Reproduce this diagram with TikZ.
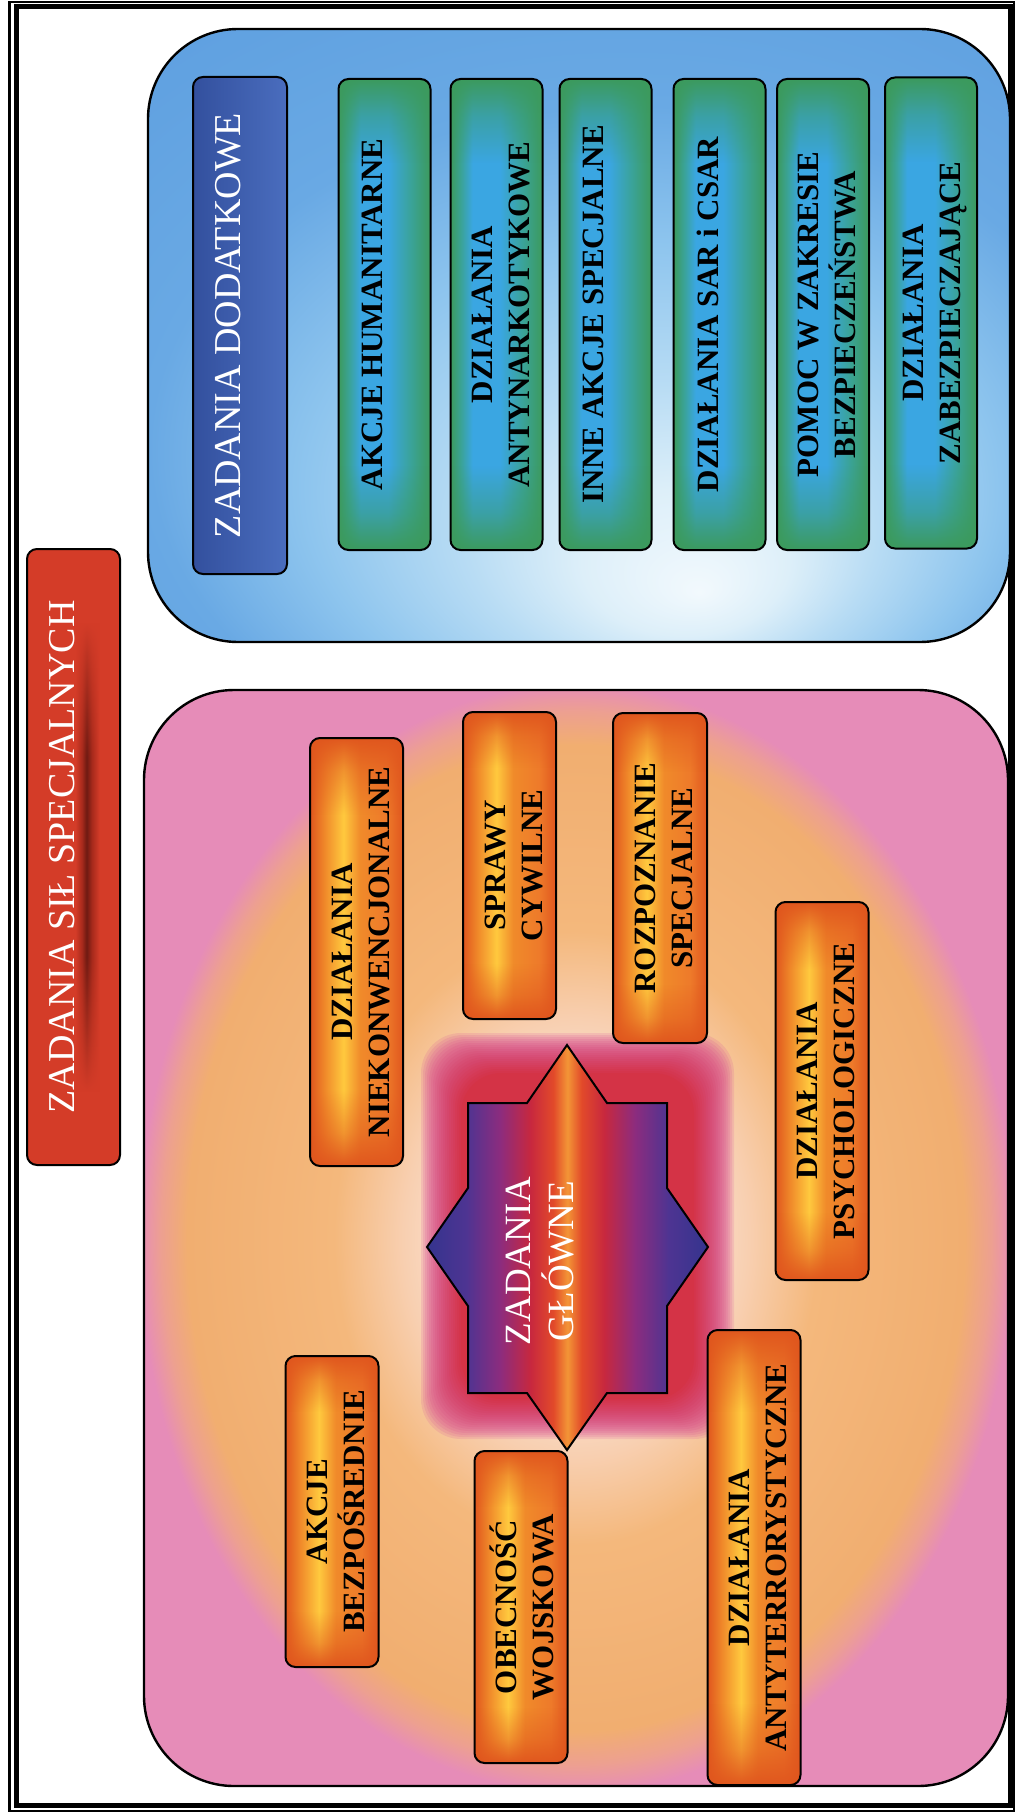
\documentclass[tikz,border=0pt]{standalone}
\usepackage{fontspec}
\setmainfont{Liberation Serif}
\usepackage{graphicx}
\usetikzlibrary{fadings}

\definecolor{blueA}{HTML}{F2F9FD}
\definecolor{blueB}{HTML}{DDEFF9}
\definecolor{blueC}{HTML}{B8DCF4}
\definecolor{blueD}{HTML}{8EC5EE}
\definecolor{blueE}{HTML}{69A9E4}
\definecolor{blueF}{HTML}{5597DC}
\definecolor{pinkA}{HTML}{FFF6F2}
\definecolor{pinkB}{HTML}{FCEAE2}
\definecolor{pinkC}{HTML}{F8CFB0}
\definecolor{pinkD}{HTML}{F4B87C}
\definecolor{pinkE}{HTML}{F1AE70}
\definecolor{pinkF}{HTML}{EDA090}
\definecolor{pinkG}{HTML}{E68CB8}
\definecolor{titlered}{HTML}{D43C28}
\definecolor{titledark}{HTML}{6E1A12}
\definecolor{titlemid}{HTML}{A82A1C}
\definecolor{navyblue}{HTML}{33509E}
\definecolor{navylight}{HTML}{4A6DBE}
\definecolor{gedge}{HTML}{3C9A5C}
\definecolor{gteal}{HTML}{3AA39A}
\definecolor{gblue}{HTML}{3AA6E2}
\definecolor{oedge}{HTML}{E0561E}
\definecolor{omid}{HTML}{F08A2A}
\definecolor{oyellow}{HTML}{FFC93E}
\definecolor{oright}{HTML}{EE7A2A}
\definecolor{snavy}{HTML}{34348E}
\definecolor{spurpleA}{HTML}{4E3492}
\definecolor{spurpleB}{HTML}{8C2C7E}
\definecolor{scrimson}{HTML}{C8283E}
\definecolor{sred}{HTML}{E24A2A}
\definecolor{sorange}{HTML}{F39536}
\definecolor{glowpink}{HTML}{D8509A}
\definecolor{glowred}{HTML}{D42A2E}

\pgfdeclareradialshading{bluepanel}{\pgfpoint{7bp}{-21bp}}{color(0bp)=(blueA); color(6bp)=(blueB); color(12bp)=(blueC); color(20bp)=(blueD); color(28bp)=(blueE); color(50bp)=(blueF)}
\pgfdeclareradialshading{pinkpanel}{\pgfpointorigin}{color(0bp)=(pinkA); color(5bp)=(pinkB); color(10bp)=(pinkC); color(14bp)=(pinkD); color(22.5bp)=(pinkE); color(24bp)=(pinkF); color(25.3bp)=(pinkG); color(50bp)=(pinkG)}
\pgfdeclarehorizontalshading{titleshade}{100bp}{color(0bp)=(titlered); color(25bp)=(titlered); color(51bp)=(titlered); color(54.5bp)=(titlemid); color(57bp)=(titledark); color(60bp)=(titlemid); color(64bp)=(titlered); color(100bp)=(titlered)}
\pgfdeclarehorizontalshading{dodatkshade}{100bp}{color(0bp)=(navyblue); color(25bp)=(navyblue); color(75bp)=(navylight); color(100bp)=(navylight)}
\pgfdeclarehorizontalshading{greenshade}{100bp}{color(0bp)=(gedge); color(25bp)=(gedge); color(31bp)=(gteal); color(37bp)=(gblue); color(52bp)=(gblue); color(64bp)=(gteal); color(75bp)=(gedge); color(100bp)=(gedge)}
\pgfdeclarehorizontalshading{orangeshade}{100bp}{color(0bp)=(oedge); color(25bp)=(oedge); color(33bp)=(omid); color(43bp)=(oyellow); color(52bp)=(omid); color(66bp)=(oright); color(75bp)=(oedge); color(100bp)=(oedge)}
\pgfdeclarehorizontalshading{starshade}{100bp}{color(0bp)=(snavy); color(25bp)=(snavy); color(32bp)=(spurpleA); color(38bp)=(spurpleB); color(43.5bp)=(scrimson); color(47.5bp)=(sred); color(50bp)=(sorange); color(52.5bp)=(sred); color(56.5bp)=(scrimson); color(62bp)=(spurpleB); color(68bp)=(spurpleA); color(75bp)=(snavy); color(100bp)=(snavy)}
\pgfdeclareverticalshading{endshade}{100bp}{color(0bp)=(pgftransparent!0); color(25bp)=(pgftransparent!0); color(29bp)=(pgftransparent!55); color(34bp)=(pgftransparent!100); color(66bp)=(pgftransparent!100); color(71bp)=(pgftransparent!55); color(75bp)=(pgftransparent!0); color(100bp)=(pgftransparent!0)}
\pgfdeclarefading{endsfade}{\pgfuseshading{endshade}}
\pgfdeclareverticalshading{bandshade}{100bp}{color(0bp)=(pgftransparent!0); color(31bp)=(pgftransparent!0); color(42bp)=(pgftransparent!100); color(58bp)=(pgftransparent!100); color(69bp)=(pgftransparent!0); color(100bp)=(pgftransparent!0)}
\pgfdeclarefading{bandfade}{\pgfuseshading{bandshade}}

\newcommand{\cellfont}{\fontsize{15.5}{18.5}\selectfont\bfseries}
\newcommand{\headfont}{\fontsize{19}{22}\selectfont}
\newcommand{\starfont}{\fontsize{18.5}{21.5}\selectfont}
\newcommand{\vone}[1]{\rotatebox{90}{\rule[-12pt]{0pt}{12pt}#1}}
\newcommand{\vtwo}[2]{\rotatebox{90}{\vbox{\halign{\hfil##\hfil\cr\rule{0pt}{14.5pt}#1\cr #2\cr}}}}

\tikzset{
    panel/.style = {draw=black, line width=1.2pt, rounded corners=45pt},
    outline/.style = {postaction={draw=black, line width=1pt}},
    boxbase/.style = {inner sep=0pt, rounded corners=5pt, minimum width=46.5pt, font=\cellfont},
}
\tikzset{
    gbox/.style = {boxbase, minimum width=46pt, minimum height=235.5pt, shading=greenshade,
        postaction={fill=gedge, path fading=endsfade}, outline},
    obox/.style = {boxbase, shading=orangeshade, postaction={fill=oedge, path fading=endsfade}, outline},
    headbox/.style = {boxbase, text=white, font=\headfont},
    starbody/.style = {shading=starshade, draw=black, line width=1pt},
}

\begin{document}
\begin{tikzpicture}[x=0.5pt, y=-0.5pt]
        \useasboundingbox[fill=white] (0,0) rectangle (1016,1813);
        \draw[line width=1.2pt] (9.5,2) rectangle (1014,1811);
        \draw[line width=2.5pt] (16,7) rectangle (1010,1805);

        \path[panel, shading=bluepanel] (148,29) rectangle (1010,642);
        \path[panel, shading=pinkpanel] (144,690) rectangle (1008,1786);

        \foreach \k [evaluate=\k as \mix using int(5*\k)] in {0,...,20}
            \fill[glowred!\mix!glowpink, opacity=0.17, rounded corners=20pt]
                (421+2*\k, 1033+2*\k) rectangle (734-2*\k, 1439-2*\k);
        \path[starbody] (567,1045) -- (607,1103) -- (667,1103) -- (667,1188) -- (708,1247)
            -- (667,1306) -- (667,1393) -- (607,1393) -- (567,1450) -- (527,1393) -- (468,1393)
            -- (468,1306) -- (427,1247) -- (468,1188) -- (468,1103) -- (527,1103) -- cycle;
        \node[text=white, font=\starfont] (glowne) at (537.5, 1261) {\vtwo{ZADANIA}{GŁÓWNE}};

        \node[headbox, minimum height=308pt, shading=titleshade,
            postaction={fill=titlered, path fading=bandfade}, outline] (title) at (73.5, 857) {\vone{ZADANIA SIŁ SPECJALNYCH}};
        \node[headbox, minimum width=47pt, minimum height=248.5pt, shading=dodatkshade, outline] (dodatk) at (240, 325.5) {\vone{ZADANIA DODATKOWE}};

        \node[gbox] (humanit) at (384.5, 314.5) {\vone{AKCJE HUMANITARNE}};
        \node[gbox] (narko) at (496.5, 314.5) {\vtwo{DZIAŁANIA}{ANTYNARKOTYKOWE}};
        \node[gbox] (innespec) at (605.5, 314.5) {\vone{INNE AKCJE SPECJALNE}};
        \node[gbox] (sar) at (719.5, 314.5) {\vone{DZIAŁANIA SAR i CSAR}};
        \node[gbox] (pomoc) at (823, 314.5) {\vtwo{POMOC W ZAKRESIE}{BEZPIECZEŃSTWA}};
        \node[gbox] (zabezp) at (931, 313) {\vtwo{DZIAŁANIA}{ZABEZPIECZAJĄCE}};

        \node[obox, minimum height=214pt] (niekonw) at (356.5, 952) {\vtwo{DZIAŁANIA}{NIEKONWENCJONALNE}};
        \node[obox, minimum height=153.5pt] (sprawy) at (509.5, 865.5) {\vtwo{SPRAWY}{CYWILNE}};
        \node[obox, minimum width=47pt, minimum height=165pt] (rozpozn) at (660, 878) {\vtwo{ROZPOZNANIE}{SPECJALNE}};
        \node[obox, minimum height=189pt] (psycho) at (822, 1091) {\vtwo{DZIAŁANIA}{PSYCHOLOGICZNE}};
        \node[obox, minimum height=155.5pt] (akcje) at (332, 1511.5) {\vtwo{AKCJE}{BEZPOŚREDNIE}};
        \node[obox, minimum height=156pt] (obecnosc) at (521, 1607) {\vtwo{OBECNOŚĆ}{WOJSKOWA}};
        \node[obox, minimum height=227.5pt] (antyterr) at (754, 1557.5) {\vtwo{DZIAŁANIA}{ANTYTERRORYSTYCZNE}};
    \end{tikzpicture}
\end{document}
